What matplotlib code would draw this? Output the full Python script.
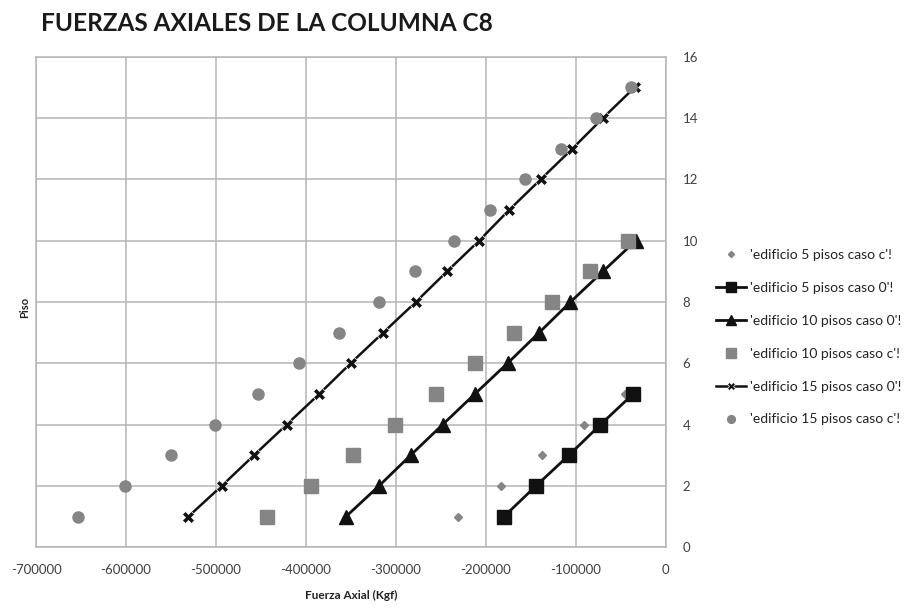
import numpy as np
import matplotlib.pyplot as plt

plt.rcParams['font.family'] = ['Lato', 'DejaVu Sans']
plt.rcParams['axes.unicode_minus'] = False

pisos5 = np.arange(1, 6)
pisos10 = np.arange(1, 11)
pisos15 = np.arange(1, 16)

# fuerza axial (Kgf) por piso
e5_c = [-231400, -183000, -137800, -91100, -44800]
e5_0 = [-180000, -144400, -107800, -72600, -36300]
e10_0 = [-355600, -318900, -283700, -248100, -212200, -175900, -140800, -105900, -69700, -33300]
e10_c = [-443700, -394800, -348100, -301100, -255600, -211900, -169200, -126700, -84400, -41900]
e15_0 = [-530800, -493700, -457800, -421500, -385200, -350300, -314100, -277800, -243000,
         -207400, -174100, -138900, -103700, -69700, -34400]
e15_c = [-653700, -601100, -550000, -500800, -453300, -407400, -363000, -318900, -278600,
         -235900, -195600, -157000, -116300, -77000, -38100]

gris = '#858585'
negro = '#111111'

fig = plt.figure(figsize=(9.12, 6.15), dpi=100)
ax = fig.add_axes([0.0395, 0.110, 0.6905, 0.798])

ax.plot(e5_c, pisos5, linestyle='none', marker='D', ms=4.5, color=gris, label="'edificio 5 pisos caso c'!")
ax.plot(e5_0, pisos5, color=negro, lw=2, marker='s', ms=10, label="'edificio 5 pisos caso 0'!")
ax.plot(e10_0, pisos10, color=negro, lw=2, marker='^', ms=9.5, label="'edificio 10 pisos caso 0'!")
ax.plot(e10_c, pisos10, linestyle='none', marker='s', ms=10, color=gris, label="'edificio 10 pisos caso c'!")
ax.plot(e15_0, pisos15, color=negro, lw=1.8, marker='X', ms=9, mec='white', mew=0.5,
        label="'edificio 15 pisos caso 0'!")
ax.plot(e15_c, pisos15, linestyle='none', marker='o', ms=8, color=gris, label="'edificio 15 pisos caso c'!")

ax.set_xlim(-700000, 0)
ax.set_ylim(0, 16)
ax.set_xticks(np.arange(-700000, 1, 100000))
ax.set_yticks(np.arange(0, 17, 2))
ax.yaxis.tick_right()
ax.tick_params(length=0, labelsize=9.5, labelcolor='#404040')
ax.tick_params(axis='x', pad=12)
ax.tick_params(axis='y', pad=12)
ax.grid(True, color='#b5b5b5', lw=1.1)
ax.set_axisbelow(True)
for s in ax.spines.values():
    s.set_color('#b5b5b5')
    s.set_linewidth(1.1)

ax.set_xlabel('Fuerza Axial (Kgf)', fontsize=8.5, fontweight='bold', color='#222222', labelpad=10)
fig.text(0.027, 0.50, 'Piso', rotation=90, fontsize=8, fontweight='bold', color='#222222',
         ha='center', va='center')

fig.text(0.045, 0.962, 'FUERZAS AXIALES DE LA COLUMNA C8', fontsize=17.6, fontweight='bold',
         color='#1a1a1a', ha='left', va='center')

fig.legend(loc='upper left', bbox_to_anchor=(0.771, 0.615), frameon=False, fontsize=10,
           handlelength=2.2, handletextpad=0.3, labelspacing=1.5, markerscale=0.7,
           labelcolor='#222222')

plt.savefig('out.png', dpi=100)
